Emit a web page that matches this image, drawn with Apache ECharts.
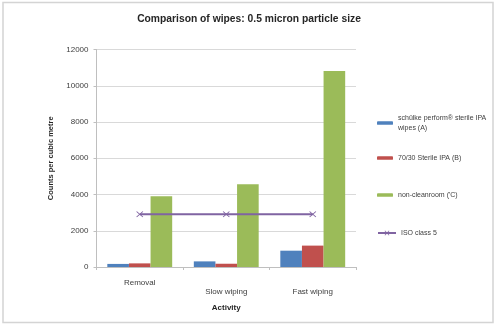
<!DOCTYPE html>
<html><head><meta charset="utf-8">
<script src="https://cdn.jsdelivr.net/npm/echarts@6/dist/echarts.min.js"></script>
<style>html,body{margin:0;padding:0;background:#fff}#c{width:498px;height:328px}</style>
</head><body><div id="c"></div>
<script>
var categories = ['Removal', 'Slow wiping', 'Fast wiping'];
var seriesNames = ['schülke perform® sterile IPA wipes (A)', '70/30 Sterile IPA (B)', "non-cleanroom ('C)", 'ISO class 5'];
var wipesA = [170, 310, 900];
var sterileB = [200, 180, 1180];
var nonCleanroom = [3900, 4570, 10820];
var isoClass5 = [2910, 2910, 2910];
var yTicks = [0, 2000, 4000, 6000, 8000, 10000, 12000];

var FONT = '"Liberation Sans", Arial, sans-serif';
var chart = echarts.init(document.getElementById('c'), null, {renderer: 'canvas'});
var crossPath = 'path://M0,1L1,0L5,4L9,0L10,1L6,5L10,9L9,10L5,6L1,10L0,9L4,5Z';
var legendTops = [113, 153, 190, 228];
function mkLegend(i) {
  return {
    data: [seriesNames[i]], orient: 'vertical', left: 377, top: legendTops[i], padding: 0,
    itemWidth: 16, itemHeight: 3.5, itemGap: 4,
    textStyle: {fontFamily: FONT, fontSize: 7, color: '#404040', lineHeight: 10},
    formatter: function (n) { return n === seriesNames[0] ? 'schülke perform® sterile IPA\nwipes (A)' : n; }
  };
}
var option = {
  animation: false,
  textStyle: {fontFamily: FONT},
  title: {
    text: 'Comparison of wipes: 0.5 micron particle size', left: 'center', top: 9,
    textStyle: {fontFamily: FONT, fontSize: 10.3, fontWeight: 'bold', color: '#262626'}
  },
  graphic: [{type: 'rect', shape: {x: 3, y: 2.5, width: 490, height: 320}, style: {fill: 'none', stroke: '#d4d4d4', lineWidth: 1.5}, silent: true, z: -1}],
  legend: [mkLegend(0), mkLegend(1), mkLegend(2), Object.assign(mkLegend(3), {itemWidth: 18, itemHeight: 6})],
  grid: {left: 96.5, right: 142, top: 49.5, bottom: 61, containLabel: false},
  xAxis: {
    type: 'category', data: categories,
    axisLine: {lineStyle: {color: '#bfbfbf', width: 1}},
    axisTick: {show: true, length: 3, lineStyle: {color: '#bfbfbf'}},
    axisLabel: {
      fontFamily: FONT, fontSize: 8, color: '#404040', margin: 12,
      formatter: function (v, i) { return i === 0 ? '{a|' + v + '}' : '{b|' + v + '}'; },
      rich: {a: {fontSize: 8, color: '#404040', fontFamily: FONT}, b: {fontSize: 8, color: '#404040', fontFamily: FONT, padding: [9, 0, 0, 0]}}
    },
    name: 'Activity', nameLocation: 'middle', nameGap: 37,
    nameTextStyle: {fontFamily: FONT, fontSize: 8, fontWeight: 'bold', color: '#262626'}
  },
  yAxis: {
    type: 'value', min: yTicks[0], max: yTicks[yTicks.length - 1], interval: yTicks[1] - yTicks[0],
    axisLine: {show: true, lineStyle: {color: '#bfbfbf', width: 1}},
    axisTick: {show: true, length: 3, lineStyle: {color: '#bfbfbf'}},
    splitLine: {lineStyle: {color: '#d9d9d9', width: 1}},
    axisLabel: {fontFamily: FONT, fontSize: 8, color: '#404040', margin: 8, formatter: function (v) { return String(v); }},
    name: 'Counts per cubic metre', nameLocation: 'middle', nameGap: 38, nameRotate: 90,
    nameTextStyle: {fontFamily: FONT, fontSize: 7.5, fontWeight: 'bold', color: '#262626'}
  },
  series: [
    {name: seriesNames[0], type: 'bar', data: wipesA, barGap: '0%', barCategoryGap: '25%', itemStyle: {color: '#4f81bd'}},
    {name: seriesNames[1], type: 'bar', data: sterileB, barGap: '0%', barCategoryGap: '25%', itemStyle: {color: '#c0504d'}},
    {name: seriesNames[2], type: 'bar', data: nonCleanroom, barGap: '0%', barCategoryGap: '25%', itemStyle: {color: '#9bbb59'}},
    {name: seriesNames[3], type: 'line', data: isoClass5, symbol: crossPath, symbolSize: [7, 6],
      lineStyle: {color: '#8064a2', width: 2}, itemStyle: {color: '#8064a2'}, z: 5}
  ]
};
chart.setOption(option);
</script></body></html>
